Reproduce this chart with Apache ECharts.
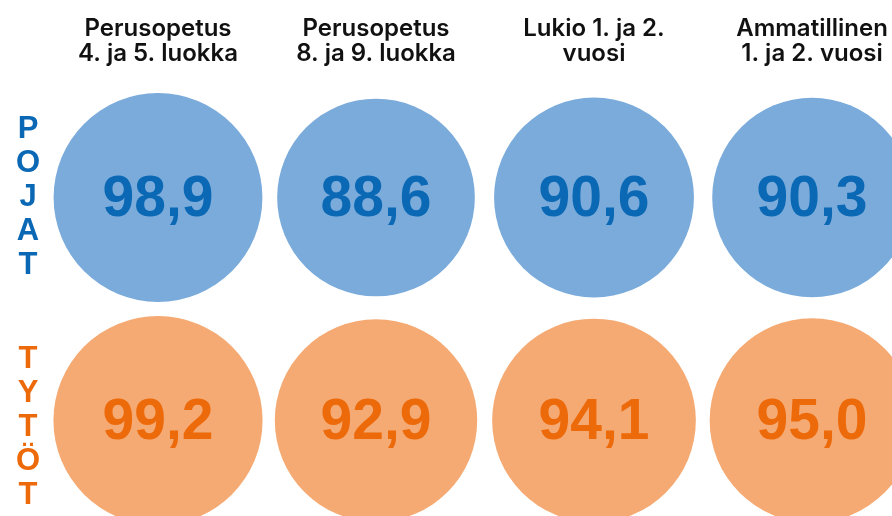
<!DOCTYPE html>
<html>
<head>
<meta charset="utf-8">
<script src="https://cdn.jsdelivr.net/npm/echarts@6/dist/echarts.min.js"></script>
<style>
  html, body { margin: 0; padding: 0; background: #fff; }
  #chart { width: 892px; height: 516px; }
</style>
</head>
<body>
<div id="chart"></div>
<script>
// sarakkeet ja rivit
var categories = [
  'Perusopetus\n4. ja 5. luokka',
  'Perusopetus\n8. ja 9. luokka',
  'Lukio 1. ja 2.\nvuosi',
  'Ammatillinen\n1. ja 2. vuosi'
];
var groups = ['POJAT', 'TYTÖT'];

// arvot (%)
var pojat = [98.9, 88.6, 90.6, 90.3];
var tytot = [99.2, 92.9, 94.1, 95.0];

var fillColors = ['#7aabdb', '#f5aa73'];
var textColors = ['#0a68b4', '#ed6a0b'];

function toPoints(values, group) {
  return values.map(function (v, i) { return [categories[i], group, v]; });
}

function makeSeries(values, idx) {
  return {
    type: 'scatter',
    clip: false,
    data: toPoints(values, groups[idx]),
    symbol: 'circle',
    symbolSize: function (d) { return 21 * Math.sqrt(d[2]); },
    itemStyle: { color: fillColors[idx], opacity: 1 },
    label: {
      show: true,
      position: 'inside',
      offset: [0, 3],
      formatter: function (p) { return p.value[2].toFixed(1).replace('.', ','); },
      color: textColors[idx],
      fontFamily: 'Liberation Sans',
      fontWeight: 'bold',
      fontSize: 57
    },
    emphasis: { disabled: true }
  };
}

var letterStyle = {
  fontFamily: 'Liberation Sans',
  fontWeight: 'bold',
  fontSize: 31,
  lineHeight: 34
};

var chart = echarts.init(document.getElementById('chart'));
chart.setOption({
  animation: false,
  grid: { left: 49, top: 86, width: 872, height: 446, outerBoundsMode: 'none', containLabel: false },
  xAxis: {
    type: 'category',
    position: 'top',
    data: categories,
    axisLine: { show: false },
    axisTick: { show: false },
    splitLine: { show: false },
    axisLabel: {
      interval: 0,
      margin: 20,
      color: '#111',
      fontFamily: 'Inter',
      fontWeight: 600,
      fontSize: 24,
      lineHeight: 25
    }
  },
  yAxis: {
    type: 'category',
    inverse: true,
    data: groups,
    axisLine: { show: false },
    axisTick: { show: false },
    splitLine: { show: false },
    axisLabel: {
      interval: 0,
      margin: 21,
      align: 'center',
      formatter: function (v, i) {
        return '{' + (i === 0 ? 'b' : 'o') + '|' + v.split('').join('\n') + '}';
      },
      rich: {
        b: Object.assign({ color: textColors[0] }, letterStyle),
        o: Object.assign({ color: textColors[1], padding: [14, 0, 0, 0] }, letterStyle)
      }
    }
  },
  series: [makeSeries(pojat, 0), makeSeries(tytot, 1)]
});
</script>
</body>
</html>
